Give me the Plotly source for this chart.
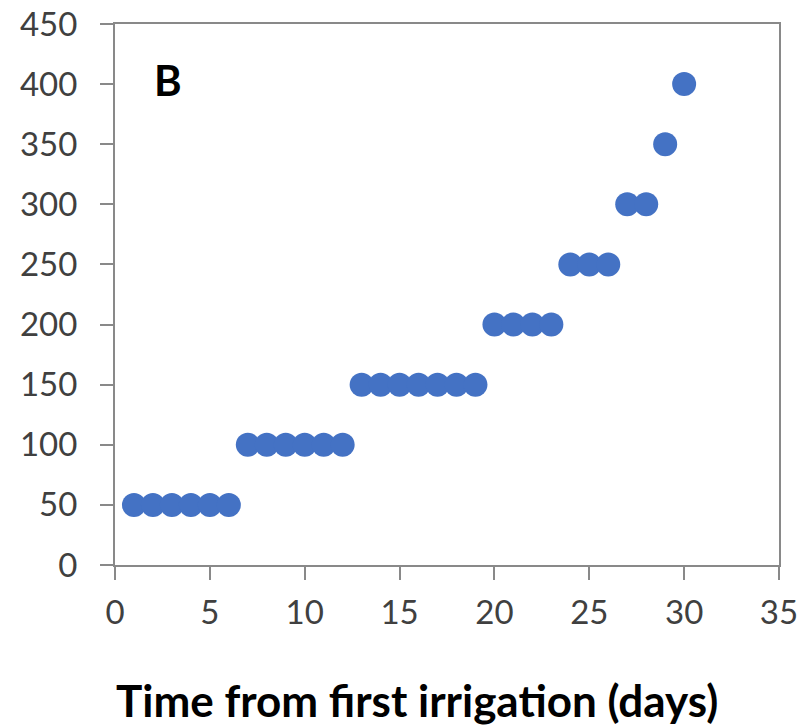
import plotly.graph_objects as go

days = [1, 2, 3, 4, 5, 6, 7, 8, 9, 10, 11, 12, 13, 14, 15, 16, 17, 18, 19,
        20, 21, 22, 23, 24, 25, 26, 27, 28, 29, 30]
values = [50, 50, 50, 50, 50, 50, 100, 100, 100, 100, 100, 100,
          150, 150, 150, 150, 150, 150, 150, 200, 200, 200, 200,
          250, 250, 250, 300, 300, 350, 400]
x_ticks = [0, 5, 10, 15, 20, 25, 30, 35]
y_ticks = [0, 50, 100, 150, 200, 250, 300, 350, 400, 450]
panel_label = "B"
x_title = "Time from first irrigation (days)"

FONT = "Lato, Open Sans, sans-serif"
AX = "#898989"

# page body has an 8px default margin; compensate
OFF = 8
L, R, T, B = 115 - OFF, 27 + OFF, 24 - OFF, 162 + OFF
plot_w = 806 - L - R
plot_h = 727 - T - B

fig = go.Figure()
fig.add_trace(go.Scatter(
    x=days, y=values, mode="markers",
    marker=dict(color="#4472C4", size=24, line=dict(width=0)),
    showlegend=False,
))

axis_common = dict(
    showgrid=False, zeroline=False, showline=True, linecolor=AX, linewidth=2,
    mirror=True, ticks="outside", ticklen=13, tickwidth=2, tickcolor=AX,
    tickfont=dict(family=FONT, size=33, color="#404040"),
    automargin=False, ticklabeloverflow="allow",
)
fig.update_xaxes(range=[0, 35], tickvals=x_ticks, ticklabelstandoff=4, **axis_common)
fig.update_yaxes(range=[0, 450], tickvals=y_ticks, ticklabelstandoff=16, **axis_common)


def px(xp):
    return (xp - OFF - L) / plot_w


def py(yp):
    return (727 - B - (yp - OFF)) / plot_h


fig.add_annotation(x=px(168), y=py(80), xref="paper", yref="paper",
                   xanchor="center", yanchor="middle",
                   text="<b>" + panel_label + "</b>", showarrow=False,
                   font=dict(family=FONT, size=42, color="#000000"))
fig.add_annotation(x=px(417), y=py(700), xref="paper", yref="paper",
                   xanchor="center", yanchor="middle",
                   text="<b>" + x_title + "</b>", showarrow=False,
                   font=dict(family=FONT, size=44, color="#000000"))

fig.update_layout(
    width=806, height=727,
    margin=dict(l=L, r=R, t=T, b=B),
    plot_bgcolor="white", paper_bgcolor="white",
)

fig.write_html("out.html")
